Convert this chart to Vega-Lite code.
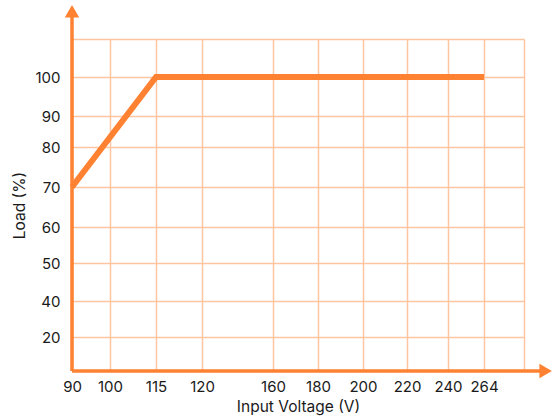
{
  "$schema": "https://vega.github.io/schema/vega-lite/v6.json",
  "width": 452,
  "height": 332,
  "autosize": {"type": "none"},
  "padding": {"left": 72, "top": 39, "right": 28, "bottom": 49},
  "config": {
    "view": {"stroke": null},
    "font": "Inter",
    "axis": {
      "domain": false,
      "ticks": false,
      "grid": true,
      "gridColor": "#fdc6a0",
      "gridWidth": 1.5,
      "labelFont": "Inter",
      "labelFontSize": 15,
      "labelColor": "#1a1a1a",
      "labelFlush": false,
      "labelOverlap": false,
      "titleFont": "Inter",
      "titleFontSize": 15.5,
      "titleFontWeight": "normal",
      "titleColor": "#1a1a1a"
    }
  },
  "datasets": {
    "curve": [
      {"voltage": 90, "load": 70},
      {"voltage": 115, "load": 100},
      {"voltage": 264, "load": 100}
    ],
    "axislines": [
      {"voltage": 90, "load": 10, "voltage2": 298, "load2": 10},
      {"voltage": 90, "load": 10, "voltage2": 90, "load2": 116}
    ],
    "arrows": [
      {"voltage": 301, "load": 10, "dir": "triangle-right"},
      {"voltage": 90, "load": 117.3, "dir": "triangle-up"}
    ]
  },
  "layer": [
    {
      "data": {"name": "curve"},
      "mark": {"type": "line", "color": "#ff8232", "strokeWidth": 6, "strokeJoin": "miter", "strokeCap": "butt"},
      "encoding": {
        "x": {
          "field": "voltage",
          "type": "quantitative",
          "scale": {
            "domain": [90, 100, 115, 120, 160, 180, 200, 220, 240, 264, 288],
            "range": [0, 38, 84, 130, 201, 246, 291, 335, 376, 412, 452],
            "nice": false,
            "zero": false
          },
          "axis": {
            "values": [90, 100, 115, 120, 160, 180, 200, 220, 240, 264, 288],
            "labelExpr": "datum.value == 288 ? '' : datum.label",
            "labelPadding": 8,
            "titlePadding": 5,
            "title": "Input Voltage (V)"
          }
        },
        "y": {
          "field": "load",
          "type": "quantitative",
          "scale": {
            "domain": [10, 20, 40, 50, 60, 70, 80, 90, 100, 110],
            "range": [332, 298, 262, 224, 188, 148, 108, 77, 38, 0],
            "nice": false,
            "zero": false
          },
          "axis": {
            "values": [20, 40, 50, 60, 70, 80, 90, 100, 110],
            "labelExpr": "datum.value == 110 ? '' : datum.label",
            "labelPadding": 12,
            "titlePadding": 7,
            "title": "Load (%)"
          }
        }
      }
    },
    {
      "data": {"name": "axislines"},
      "mark": {"type": "rule", "color": "#ff8232", "strokeWidth": 3.5},
      "encoding": {
        "x": {"field": "voltage", "type": "quantitative"},
        "y": {"field": "load", "type": "quantitative"},
        "x2": {"field": "voltage2"},
        "y2": {"field": "load2"}
      }
    },
    {
      "data": {"name": "arrows"},
      "mark": {"type": "point", "filled": true, "opacity": 1, "color": "#ff8232", "size": 210},
      "encoding": {
        "x": {"field": "voltage", "type": "quantitative"},
        "y": {"field": "load", "type": "quantitative"},
        "shape": {"field": "dir", "type": "nominal", "scale": null, "legend": null}
      }
    }
  ]
}
